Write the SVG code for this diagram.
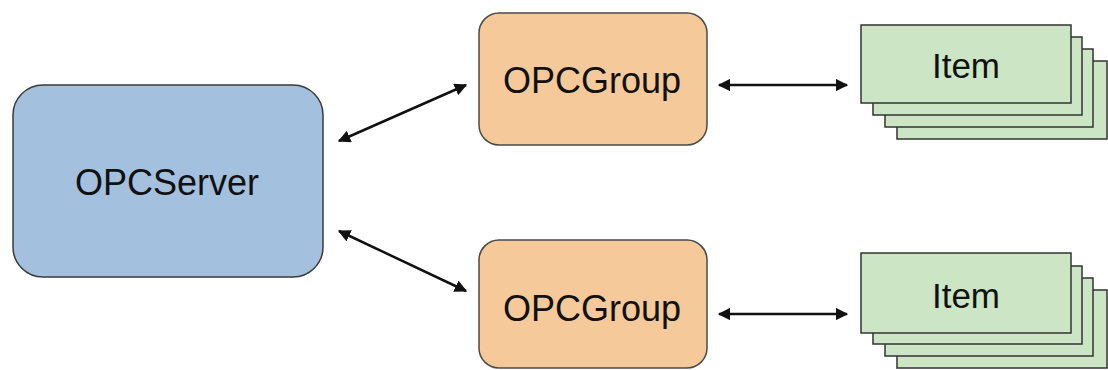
<svg xmlns="http://www.w3.org/2000/svg" width="1108" height="370" viewBox="0 0 1108 370">
<style>
.lbl{font-family:"Liberation Sans",Arial,sans-serif;fill:#111;text-anchor:middle}
.server{fill:#a3c0df;stroke:#3a3a3a;stroke-width:1.5}
.group{fill:#f5c999;stroke:#4a4a4a;stroke-width:1.5}
.item{fill:#cce5c4;stroke:#333;stroke-width:1.5}
.conn{stroke:#111;stroke-width:2.5;fill:none;marker-start:url(#ah);marker-end:url(#ah)}
</style>
<defs>
<marker id="ah" viewBox="0 0 10 10" refX="9" refY="5" markerWidth="5" markerHeight="5" orient="auto-start-reverse" markerUnits="strokeWidth">
<path d="M0,0 L10,5 L0,10 z" fill="#111"/>
</marker>
</defs>
<g id="connectors">
<line class="conn" x1="339" y1="141" x2="466" y2="85"/>
<line class="conn" x1="339" y1="231" x2="466" y2="291"/>
<line class="conn" x1="719" y1="85" x2="847" y2="85"/>
<line class="conn" x1="719" y1="314" x2="847" y2="314"/>
</g>
<g id="server">
<rect class="server" x="13" y="85" width="310" height="192" rx="30"/>
<text class="lbl" x="167" y="195" font-size="36">OPCServer</text>
</g>
<g id="group1">
<rect class="group" x="479" y="13" width="228" height="132" rx="20"/>
<text class="lbl" x="592" y="93" font-size="36">OPCGroup</text>
</g>
<g id="group2">
<rect class="group" x="479" y="240" width="228" height="128" rx="20"/>
<text class="lbl" x="592" y="321" font-size="36">OPCGroup</text>
</g>
<g id="items1">
<rect class="item" x="897" y="61" width="210" height="78"/>
<rect class="item" x="885" y="49" width="208" height="78"/>
<rect class="item" x="873" y="37" width="209" height="78"/>
<rect class="item" x="861" y="25" width="210" height="78"/>
<text class="lbl" x="966" y="78" font-size="35">Item</text>
</g>
<g id="items2">
<rect class="item" x="897" y="290" width="210" height="78"/>
<rect class="item" x="885" y="278" width="208" height="78"/>
<rect class="item" x="873" y="266" width="209" height="78"/>
<rect class="item" x="861" y="253" width="210" height="80"/>
<text class="lbl" x="966" y="308" font-size="35">Item</text>
</g>
</svg>
